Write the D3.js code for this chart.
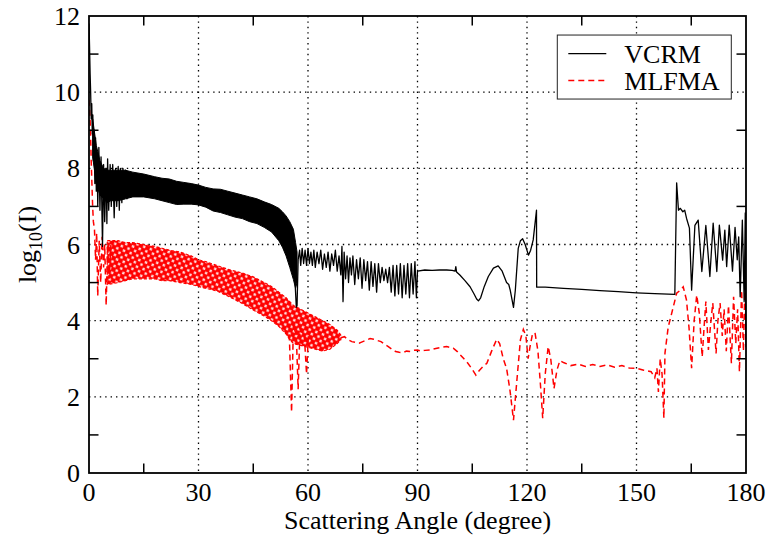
<!DOCTYPE html>
<html>
<head>
<meta charset="utf-8">
<script src="https://cdn.jsdelivr.net/npm/d3@7"></script>
<style>
  html, body { margin: 0; padding: 0; background: #fff; }
  .grid line { stroke: #000; stroke-width: 1.3; stroke-dasharray: 1.4 4; }
  text { font-family: "Liberation Serif", "Times New Roman", Times, serif; fill: #000; }
  .tick-label { font-size: 26px; }
  .title { font-size: 26px; }
</style>
</head>
<body>
<div id="chart"></div>
<script>
// x ticks (degree) and y ticks (log10 I)
const xTicks = [0, 30, 60, 90, 120, 150, 180];
const xMinor = [15, 45, 75, 105, 135, 165];
const yTicks = [0, 2, 4, 6, 8, 10, 12];
const yMinor = [1, 3, 5, 7, 9, 11];

const seriesNames = ["VCRM", "MLFMA"];

// VCRM: dense oscillating part, [angle, upper, lower]
const vcrmBand = [
  [1, 9.3, 8.3], [2, 8.6, 7.6], [3, 8.2, 7.3], [4, 8.0, 7.2], [5, 7.95, 7.1],
  [6, 7.95, 7.15], [8, 7.95, 7.15], [10, 7.95, 7.2], [12, 7.9, 7.25], [15, 7.85, 7.25],
  [18, 7.78, 7.2], [20, 7.74, 7.15], [22, 7.72, 7.1], [24, 7.66, 7.05], [26, 7.63, 7.06],
  [28, 7.6, 7.06], [30, 7.56, 7.04], [32, 7.5, 6.98], [34, 7.46, 6.88], [36, 7.45, 6.84],
  [38, 7.4, 6.78], [40, 7.35, 6.72], [42, 7.3, 6.68], [44, 7.25, 6.6], [46, 7.2, 6.55],
  [48, 7.12, 6.45], [50, 7.05, 6.33], [52, 6.95, 6.1], [53, 6.86, 5.93], [54, 6.75, 5.7],
  [55, 6.6, 5.4], [56, 6.4, 5.08], [56.6, 6.05, 4.85], [57, 5.8, 5.0]
];

// VCRM: resolved trace near forward direction, [angle, log10 I]
const vcrmHead = [
  [0, 11.8], [0.15, 11.2], [0.3, 10.5], [0.45, 10.0], [0.6, 9.3], [0.75, 9.7], [0.9, 8.9],
  [1.05, 9.4], [1.2, 8.2], [1.4, 9.0], [1.6, 7.6], [1.8, 8.8], [2.0, 7.4], [2.2, 8.4],
  [2.4, 7.0], [2.7, 8.55], [3.0, 6.9], [3.3, 8.3], [3.7, 5.95], [4.0, 8.1], [4.3, 6.6],
  [4.7, 8.0], [4.9, 6.55], [5.1, 8.25], [5.4, 6.9], [5.8, 8.1], [6.1, 7.0], [6.5, 8.1],
  [6.9, 6.7], [7.3, 8.0], [7.6, 7.0], [8.0, 8.05], [8.3, 6.9], [8.6, 8.0], [9.0, 7.1],
  [9.3, 8.0], [9.6, 7.2], [10.0, 7.95], [10.4, 7.2], [10.8, 7.9], [11.3, 7.3]
];

// VCRM: resolved trace from 56 degrees on
const vcrmTail = [
  [56.3, 5.3], [56.8, 4.35], [57.0, 4.4], [57.3, 5.6], [57.7, 5.85], [58.0, 5.45],
  [58.4, 5.9], [58.8, 5.5], [59.2, 5.85], [59.6, 5.45], [60.0, 5.9], [60.4, 5.5],
  [60.8, 5.8], [61.2, 5.45], [61.6, 5.85], [62.0, 5.4], [62.5, 5.8], [63.0, 5.5],
  [63.5, 5.85], [64.0, 5.35], [64.5, 5.75], [65.0, 5.4], [65.5, 5.8], [66.0, 5.3],
  [66.5, 5.75], [67.0, 5.45], [67.5, 5.85], [68.0, 5.3], [68.5, 5.7], [69.0, 5.2],
  [69.3, 5.95], [69.6, 4.5], [69.9, 5.8], [70.3, 5.1], [70.7, 5.7], [71.1, 5.0],
  [71.5, 5.65], [71.9, 5.2], [72.3, 5.7], [72.8, 4.95], [73.3, 5.6], [73.8, 5.1],
  [74.3, 5.65], [74.8, 4.85], [75.3, 5.6], [75.8, 5.05], [76.3, 5.55], [76.8, 4.8],
  [77.3, 5.55], [77.8, 4.9], [78.3, 5.5], [78.8, 4.75], [79.3, 5.5], [79.8, 5.0],
  [80.3, 5.4], [80.8, 5.05], [81.3, 5.35], [81.8, 5.0], [82.3, 5.4], [82.8, 4.75],
  [83.3, 5.45], [83.8, 4.65], [84.3, 5.45], [84.8, 4.7], [85.3, 5.5], [85.8, 4.6],
  [86.3, 5.45], [86.8, 4.7], [87.3, 5.5], [87.8, 4.6], [88.3, 5.5], [88.8, 4.7],
  [89.3, 5.55], [89.7, 4.6], [90.0, 5.3], [92, 5.33], [94, 5.32], [96, 5.33],
  [98, 5.33], [99.5, 5.32], [100.3, 5.3], [100.5, 5.42], [100.7, 5.28], [101.6, 5.2],
  [103, 5.05], [104.4, 4.89], [105.5, 4.7], [106.2, 4.57], [106.7, 4.52], [107.3, 4.6],
  [108.3, 4.9], [109.4, 5.16], [110.8, 5.38], [112.1, 5.44], [113.2, 5.3], [114.4, 5.0],
  [115.0, 4.95], [115.4, 4.8], [116.3, 4.35], [116.8, 4.8], [117.6, 5.9], [118.2, 6.1],
  [118.8, 6.15], [119.5, 6.0], [120.4, 5.72], [121.0, 5.85], [121.7, 6.12], [122.6, 6.9],
  [122.65, 4.88], [125, 4.88], [130, 4.85], [135, 4.82], [140, 4.79], [145, 4.76],
  [150, 4.73], [155, 4.71], [160.5, 4.69], [161, 7.62], [161.5, 6.9], [162.0, 6.95],
  [162.7, 6.86], [163.2, 6.9], [163.7, 6.69], [164.5, 6.43], [165.1, 4.8], [166, 6.5],
  [166.9, 6.64], [167.9, 5.29], [169, 6.5], [170.1, 5.16], [171, 6.56], [172, 5.29],
  [172.7, 6.51], [173.6, 5.59], [174.2, 6.38], [174.7, 5.42], [175.4, 6.51], [176.3, 5.3],
  [177, 6.45], [177.6, 5.6], [178.0, 6.2], [178.4, 4.63], [179, 6.64], [179.5, 4.5],
  [179.8, 6.83], [180, 3.3]
];

// MLFMA: dense oscillating part, [angle, upper, lower]
const mlfmaBand = [
  [5, 6.1, 4.95], [8, 6.1, 5.0], [10, 6.05, 5.05], [12, 6.05, 5.1], [15, 6.0, 5.1],
  [18, 5.95, 5.1], [20, 5.9, 5.05], [22, 5.85, 5.05], [25, 5.8, 5.0], [28, 5.7, 4.95],
  [30, 5.6, 4.9], [32, 5.55, 4.85], [35, 5.45, 4.78], [38, 5.35, 4.65], [40, 5.3, 4.55],
  [42, 5.25, 4.45], [45, 5.15, 4.28], [48, 5.0, 4.12], [50, 4.9, 4.0], [52, 4.75, 3.85],
  [54, 4.6, 3.65], [55, 4.5, 3.5], [56, 4.4, 3.4], [58, 4.3, 3.35], [60, 4.2, 3.3],
  [62, 4.1, 3.25], [64, 4.0, 3.2], [66, 3.9, 3.25], [68, 3.75, 3.4], [69, 3.62, 3.5]
];

// MLFMA: resolved traces, [angle, log10 I]
const mlfmaHead = [
  [0, 9.8], [0.2, 9.5], [0.4, 9.0], [0.6, 8.2], [0.8, 7.6], [1.0, 7.0], [1.2, 6.6],
  [1.5, 6.4], [1.8, 5.6], [2.1, 6.3], [2.4, 4.65], [2.8, 6.1], [3.2, 5.0], [3.6, 6.2],
  [4.0, 5.4], [4.3, 6.0], [4.7, 4.4], [5.1, 6.0], [5.5, 5.1], [6.0, 6.0]
];

const mlfmaDips = [
  [54.8, 3.9], [55.5, 1.6], [56.0, 3.9], [56.8, 3.6], [57.3, 2.2], [57.8, 3.8],
  [59.0, 3.6], [59.6, 2.6], [60.1, 3.6]
];

const mlfmaTail = [
  [69, 3.55], [70, 3.58], [71, 3.5], [72, 3.45], [73, 3.43], [74, 3.41], [75, 3.45],
  [76, 3.49], [77, 3.53], [78, 3.51], [79, 3.48], [80, 3.45], [81, 3.38], [82, 3.32],
  [83, 3.25], [84, 3.19], [85, 3.17], [86, 3.16], [87, 3.2], [88, 3.19], [89, 3.22],
  [90, 3.23], [91, 3.2], [92, 3.22], [93.4, 3.23], [95, 3.27], [96.5, 3.3], [98, 3.32],
  [99.8, 3.28], [101, 3.18], [102.6, 3.01], [103.8, 2.88], [104.8, 2.75], [106, 2.57],
  [107, 2.7], [108, 2.8], [109, 2.88], [110.3, 3.2], [111.7, 3.51], [112.5, 3.4],
  [113.5, 3.0], [114.4, 2.75], [115.3, 2.2], [116.3, 1.39], [117.2, 2.4], [118.2, 3.5],
  [119, 3.77], [119.7, 3.6], [120.3, 3.0], [120.8, 3.3], [121.5, 3.65], [122.2, 3.68],
  [123, 3.2], [123.7, 2.3], [124.3, 1.44], [125, 2.6], [125.8, 3.32], [126.5, 3.0],
  [127.4, 2.22], [128.2, 2.7], [129, 2.95], [130, 2.9], [132, 2.82], [134, 2.86],
  [136, 2.8], [138, 2.85], [140, 2.8], [142, 2.84], [144, 2.78], [146, 2.82], [148, 2.76],
  [150, 2.75], [152, 2.7], [154, 2.66], [155, 2.5], [155.6, 2.75], [156, 2.13],
  [156.5, 3.0], [157.0, 2.6], [157.5, 1.44], [157.8, 3.15], [158.7, 3.84], [159.4, 4.1],
  [160.1, 4.37], [161, 4.72], [162, 4.8], [162.8, 4.89], [163.7, 4.54], [164.4, 3.8],
  [165.1, 2.75], [165.8, 4.0], [166.5, 4.67], [167.2, 4.2], [168, 3.05], [168.5, 3.8],
  [169, 4.5], [169.7, 3.23], [170.3, 3.9], [170.9, 4.46], [171.8, 3.14], [172.3, 4.0],
  [172.9, 4.46], [173.5, 3.6], [174.0, 4.3], [174.6, 3.2], [175.2, 4.4], [176, 2.88],
  [176.6, 4.63], [177.2, 3.4], [177.7, 4.3], [178.2, 2.66], [178.8, 4.8], [179.3, 3.2],
  [179.7, 4.9], [180, 3.5]
];

// dimensions
const WIDTH = 767;
const HEIGHT = 537;
const MARGIN = { top: 16, right: 21, bottom: 64, left: 89 };
const TICK = 9.5;
const RED = "#ff0000";
const width = WIDTH - MARGIN.left - MARGIN.right;
const height = HEIGHT - MARGIN.top - MARGIN.bottom;

const x = d3.scaleLinear().domain([0, 180]).range([0, width]);
const y = d3.scaleLinear().domain([0, 12]).range([height, 0]);

const $svg = d3.select("#chart")
  .append("svg")
  .attr("width", WIDTH)
  .attr("height", HEIGHT)
  .attr("font-family", "Liberation Serif, serif");

const $defs = $svg.append("defs");
$defs.append("clipPath")
  .attr("id", "plot-clip")
  .append("rect")
  .attr("width", width)
  .attr("height", height);

// hatch texture for the densely dashed red band
const $hatch = $defs.append("pattern")
  .attr("id", "red-hatch")
  .attr("patternUnits", "userSpaceOnUse")
  .attr("width", 5)
  .attr("height", 5)
  .attr("patternTransform", "rotate(-25)");
$hatch.append("rect").attr("width", 5).attr("height", 5).attr("fill", RED);
$hatch.append("path")
  .attr("d", "M2.5,0.8 L4.2,2.5 L2.5,4.2 L0.8,2.5 Z")
  .attr("fill", "#fff")
  .attr("fill-opacity", 0.9);

const $vis = $svg.append("g")
  .attr("transform", `translate(${MARGIN.left},${MARGIN.top})`);

// dotted grid
const $grid = $vis.append("g").attr("class", "grid");
$grid.selectAll(".gx")
  .data(xTicks.slice(1, -1))
  .join("line")
  .attr("class", "gx")
  .attr("x1", d => x(d)).attr("x2", d => x(d))
  .attr("y1", 0).attr("y2", height);
$grid.selectAll(".gy")
  .data(yTicks.slice(1, -1))
  .join("line")
  .attr("class", "gy")
  .attr("x1", 0).attr("x2", width)
  .attr("y1", d => y(d)).attr("y2", d => y(d));

// curves
const band = d3.area()
  .x(d => x(d[0]))
  .y0(d => y(d[2]))
  .y1(d => y(d[1]));
const line = d3.line()
  .x(d => x(d[0]))
  .y(d => y(d[1]));

const $plot = $vis.append("g").attr("clip-path", "url(#plot-clip)");

$plot.append("path")
  .datum(mlfmaBand)
  .attr("d", band)
  .attr("fill", "url(#red-hatch)")
  .attr("stroke", RED)
  .attr("stroke-width", 1.2)
  .attr("stroke-dasharray", "3 2");

$plot.selectAll(".mlfma")
  .data([mlfmaHead, mlfmaDips, mlfmaTail])
  .join("path")
  .attr("class", "mlfma")
  .attr("d", line)
  .attr("fill", "none")
  .attr("stroke", RED)
  .attr("stroke-width", 1.5)
  .attr("stroke-dasharray", "6 4");

$plot.append("path")
  .datum(vcrmBand)
  .attr("d", band)
  .attr("fill", "#000")
  .attr("stroke", "#000")
  .attr("stroke-width", 1);

$plot.selectAll(".vcrm")
  .data([vcrmHead, vcrmTail])
  .join("path")
  .attr("class", "vcrm")
  .attr("d", line)
  .attr("fill", "none")
  .attr("stroke", "#000")
  .attr("stroke-width", 1.3)
  .attr("stroke-linejoin", "round");

// minor ticks on all four sides, pointing inward
const $ticks = $vis.append("g")
  .attr("stroke", "#000")
  .attr("stroke-width", 1.5);
xMinor.forEach(d => {
  $ticks.append("line").attr("x1", x(d)).attr("x2", x(d)).attr("y1", height).attr("y2", height - TICK);
  $ticks.append("line").attr("x1", x(d)).attr("x2", x(d)).attr("y1", 0).attr("y2", TICK);
});
yMinor.forEach(d => {
  $ticks.append("line").attr("x1", 0).attr("x2", TICK).attr("y1", y(d)).attr("y2", y(d));
  $ticks.append("line").attr("x1", width).attr("x2", width - TICK).attr("y1", y(d)).attr("y2", y(d));
});

// frame
$vis.append("rect")
  .attr("width", width)
  .attr("height", height)
  .attr("fill", "none")
  .attr("stroke", "#000")
  .attr("stroke-width", 1.8);

// tick labels
$vis.selectAll(".xl")
  .data(xTicks)
  .join("text")
  .attr("class", "tick-label xl")
  .attr("x", d => x(d))
  .attr("y", height + 28)
  .attr("text-anchor", "middle")
  .text(d => d);

$vis.selectAll(".yl")
  .data(yTicks)
  .join("text")
  .attr("class", "tick-label yl")
  .attr("x", -9)
  .attr("y", d => y(d) + 9)
  .attr("text-anchor", "end")
  .text(d => d);

// axis titles
$vis.append("text")
  .attr("class", "title")
  .attr("x", width / 2)
  .attr("y", height + 56)
  .attr("text-anchor", "middle")
  .text("Scattering Angle (degree)");

const $yTitle = $svg.append("text")
  .attr("class", "title")
  .attr("transform", `translate(36,${MARGIN.top + height / 2}) rotate(-90)`)
  .attr("text-anchor", "middle");
$yTitle.append("tspan").text("log");
$yTitle.append("tspan").attr("dy", 6).style("font-size", "18px").text("10");
$yTitle.append("tspan").attr("dy", -6).text("(I)");

// legend
const $legend = $vis.append("g")
  .attr("transform", `translate(${x(128.3)},${y(11.5)})`);
$legend.append("rect")
  .attr("width", 174)
  .attr("height", 64)
  .attr("fill", "#fff")
  .attr("stroke", "#222")
  .attr("stroke-width", 1);
const $item = $legend.selectAll(".item")
  .data(seriesNames)
  .join("g")
  .attr("class", "item")
  .attr("transform", (d, i) => `translate(0,${18.5 + i * 27})`);
$item.append("line")
  .attr("x1", 11).attr("x2", 49)
  .attr("stroke", (d, i) => (i === 0 ? "#000" : RED))
  .attr("stroke-width", (d, i) => (i === 0 ? 1.3 : 1.5))
  .attr("stroke-dasharray", (d, i) => (i === 0 ? null : "6 4"));
$item.append("text")
  .attr("class", "title")
  .attr("x", 67)
  .attr("y", 9)
  .text(d => d);
</script>
</body>
</html>
